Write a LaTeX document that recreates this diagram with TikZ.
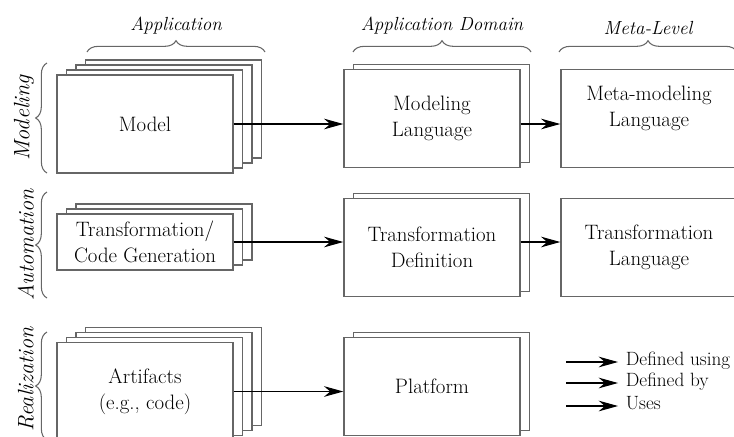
\documentclass[tikz,border=0pt]{standalone}
\usetikzlibrary{arrows.meta, decorations.pathreplacing, shadows}
\tikzset{
    box/.style={draw=black!60, line width=1.2pt, fill=white, minimum width=52.8mm, minimum height=29.4mm, align=center, inner sep=0pt},
    flatbox/.style={box, minimum height=16.8mm},
    layer/.style={general shadow={shadow xshift=#1*2.85mm, shadow yshift=#1*1.5mm, fill=white, draw=black!60, line width=1.2pt}},
    stackone/.style={layer=1},
    stacktwo/.style={layer=2, layer=1},
    stackthree/.style={layer=3, layer=2, layer=1},
    arrow/.style={-{Stealth[length=5.8mm, width=3.2mm]}, line width=0.9pt},
    brace/.style={decorate, decoration={brace, amplitude=3.4mm}, draw=black!60, line width=0.9pt},
    head/.style={font=\itshape\fontsize{16.2}{19}\selectfont},
    side/.style={font=\itshape\fontsize{19}{22}\selectfont},
    legend/.style={anchor=west, inner xsep=2.3mm, text height=1.6ex, text depth=.3ex, font=\fontsize{16.4}{19}\selectfont}
}

\begin{document}
\begin{tikzpicture}[x=0.3mm, y=0.3mm, every node/.style={font=\fontsize{17.8}{22}\selectfont}]
    \clip (0,0) rectangle (734,-436);
    % modeling row
    \node[box, stackthree] (model) at (145,-124) {Model};
    \node[box, stackone] (ml) at (432,-118.5) {Modeling\\Language};
    \node[box] (meta) at (649,-118.5) {};
    \node[align=center] (metatext) at ([yshift=3mm]meta.center) {Meta-modeling\\Language};
    % automation row
    \node[flatbox, stacktwo] (tc) at (145,-242) {Transformation/\\Code Generation};
    \node[box, stackone] (td) at (432,-247.5) {Transformation\\Definition};
    \node[box] (tl) at (649,-247.5) {Transformation\\Language};
    % realization row
    \node[box, stackthree] (art) at (145,-391.5) {Artifacts\\(e.g., code)};
    \node[box, stackone] (plat) at (432,-386.5) {Platform};

    \draw[arrow] (model.east) -- (model.east -| ml.west);
    \draw[arrow] (ml.east |- model.east) -- (model.east -| meta.west);
    \draw[arrow] (tc.east) -- (tc.east -| td.west);
    \draw[arrow] (td.east |- tc.east) -- (tc.east -| tl.west);
    \draw[arrow] (art.east) -- (art.east -| plat.west);

    % column braces
    \foreach \xa/\xb/\txt/\nm in {87/265/Application/happ, 353/531/Application Domain/hdom, 559/737/Meta-Level/hmeta}
        \draw[brace] (\xa,-52) -- (\xb,-52) node[head, midway, above=4mm] (\nm) {\txt};
    % row braces
    \foreach \ya/\yb/\p/\txt/\nm in {173/63/0.5/Modeling/vmod, 298/192/0.5/Automation/vauto, 440/332/0.56/Realization/vreal}
        \draw[brace] (47,-\ya) -- (47,-\yb) node[side, pos=\p, left=2.6mm, rotate=90, anchor=south] (\nm) {\txt};

    % legend
    \node[legend] (lg1) at (618,-362) {Defined using};
    \node[legend] (lg2) at (618,-383) {Defined by};
    \node[legend] (lg3) at (618,-406) {Uses};
    \coordinate (ls1) at (566,-362);
    \coordinate (ls2) at (566,-383);
    \coordinate (ls3) at (566,-406);
    \draw[arrow] (ls1) -- (lg1.west);
    \draw[arrow] (ls2) -- (lg2.west);
    \draw[arrow] (ls3) -- (lg3.west);
\end{tikzpicture}
\end{document}
